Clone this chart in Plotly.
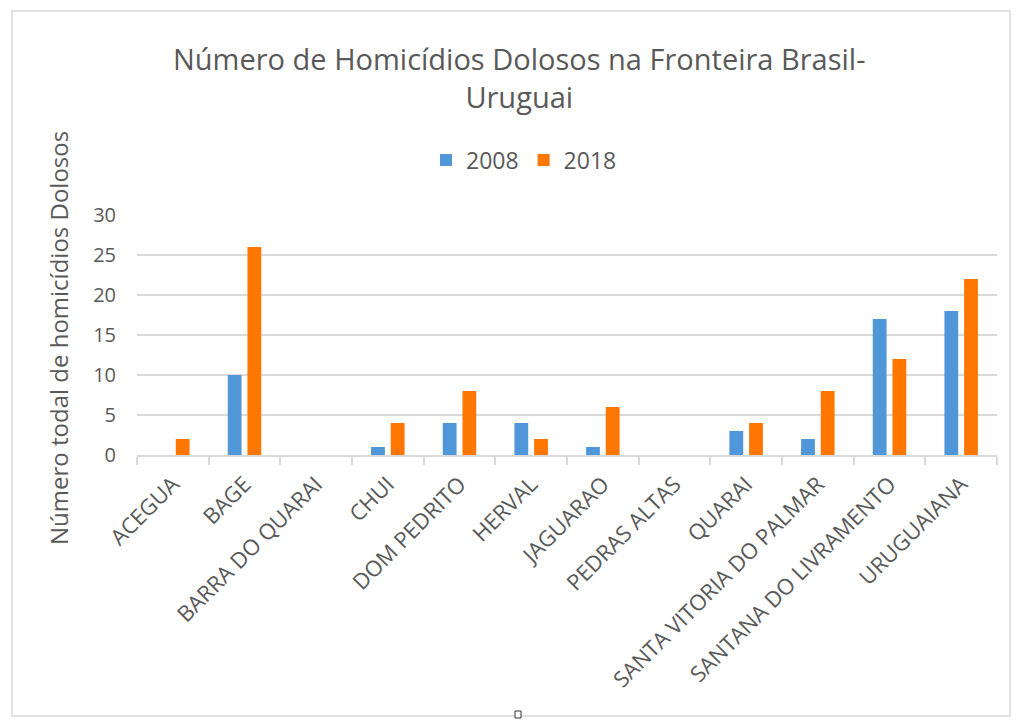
import plotly.graph_objects as go

categories = ["ACEGUA", "BAGE", "BARRA DO QUARAI", "CHUI", "DOM PEDRITO", "HERVAL",
              "JAGUARAO", "PEDRAS ALTAS", "QUARAI", "SANTA VITORIA DO PALMAR",
              "SANTANA DO LIVRAMENTO", "URUGUAIANA"]
values_2008 = [0, 10, 0, 1, 4, 4, 1, 0, 3, 2, 17, 18]
values_2018 = [2, 26, 0, 4, 8, 2, 6, 0, 4, 8, 12, 22]
y_ticks = [0, 5, 10, 15, 20, 25, 30]

FONT = "'Open Sans', Lato, sans-serif"
GRAY = "#595959"

# plot-area pixel geometry (used only to place paper-referenced decorations)
L, R, T, B = 137, 997, 215, 455
PW, PH = R - L, B - T


def px_x(x):
    return (x - L) / PW


def px_y(y):
    return (B - y) / PH


fig = go.Figure()
fig.add_trace(go.Bar(name="2008", x=categories, y=values_2008,
                     marker=dict(color="#4F97D9", line=dict(width=0))))
fig.add_trace(go.Bar(name="2018", x=categories, y=values_2018,
                     marker=dict(color="#FF7600", line=dict(width=0))))

fig.update_layout(
    width=1018, height=720,
    margin=dict(l=L, r=1018 - R, t=T, b=720 - B),
    paper_bgcolor="white", plot_bgcolor="white",
    barmode="group", bargap=0.45, bargroupgap=0.3,
    font=dict(family=FONT, color=GRAY, size=19),
    showlegend=True,
    legend=dict(orientation="h", x=px_x(524), xanchor="center", y=px_y(160), yanchor="middle",
                font=dict(size=23, color=GRAY), itemwidth=30, traceorder="normal"),
    xaxis=dict(tickangle=-45, tickson="boundaries", ticks="outside", ticklen=8,
               tickcolor="#D9D9D9", tickwidth=1.5, showline=True, linecolor="#D9D9D9",
               linewidth=1.5, showgrid=False, tickfont=dict(size=22, color=GRAY),
               ticklabelstandoff=6),
    yaxis=dict(range=[0, 30], tickvals=y_ticks, showgrid=True, gridcolor="#D9D9D9",
               gridwidth=1.5, zeroline=False, showline=False, ticks="",
               tickfont=dict(size=20, color=GRAY), ticklabelstandoff=20),
    annotations=[
        dict(text="Número de Homicídios Dolosos na Fronteira Brasil-<br>Uruguai",
             xref="paper", yref="paper", x=px_x(519), y=px_y(77), xanchor="center",
             yanchor="middle", showarrow=False, font=dict(size=29, color=GRAY, family=FONT)),
        dict(text="Número todal de homicídios Dolosos", textangle=-90,
             xref="paper", yref="paper", x=px_x(58), y=px_y(338), xanchor="center",
             yanchor="middle", showarrow=False, font=dict(size=24, color=GRAY, family=FONT)),
    ],
    shapes=[
        dict(type="rect", xref="paper", yref="paper",
             x0=px_x(12), x1=px_x(1010), y0=px_y(716), y1=px_y(11),
             line=dict(color="#D9D9D9", width=1.5), fillcolor="rgba(0,0,0,0)", layer="below"),
        dict(type="rect", xref="paper", yref="paper",
             x0=px_x(515), x1=px_x(521), y0=px_y(718), y1=px_y(711),
             line=dict(color="#333333", width=1), fillcolor="white", layer="above"),
    ],
)

fig.write_html("out.html", config={"displayModeBar": False},
               post_script="document.body.style.margin='0';")
